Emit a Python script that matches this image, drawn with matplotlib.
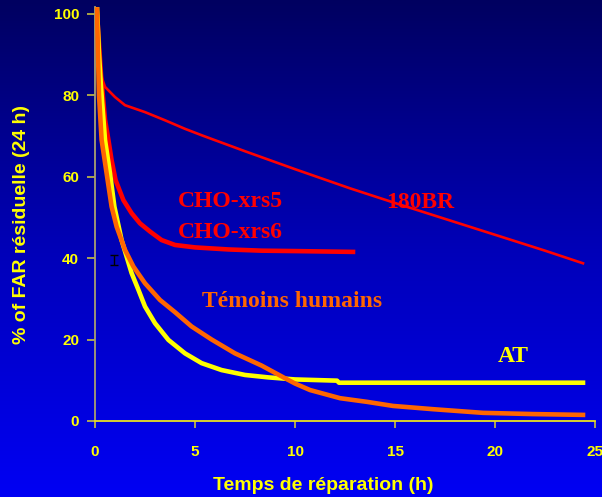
import numpy as np
import matplotlib
matplotlib.use("Agg")
import matplotlib.pyplot as plt
from matplotlib.colors import LinearSegmentedColormap

# Residual FAR (% of initial) versus repair time (h)
br180_t = [0.1, 0.2, 0.33, 0.5, 1.0, 1.5, 2.5, 3.5, 4.5, 5.4, 7.5, 10, 12.75, 15, 17.5, 20, 22.5, 24.4]
br180_v = [100, 92, 84.4, 82, 79.5, 77.5, 75.8, 73.8, 71.7, 70, 66.2, 61.8, 57.1, 53.5, 49.6, 45.7, 41.8, 38.7]

cho_t = [0.1, 0.3, 0.5, 0.67, 0.83, 1.03, 1.42, 1.83, 2.25, 2.75, 3.33, 4.0, 5.0, 6.67, 8.33, 10, 12.9]
cho_v = [100, 85, 74, 69, 64, 59.1, 54.2, 51, 48.5, 46.5, 44.4, 43.2, 42.6, 42.1, 41.8, 41.7, 41.5]

temoins_t = [0.1, 0.15, 0.2, 0.33, 0.58, 0.83, 1.08, 1.5, 1.92, 2.5, 3.25, 4.0, 4.83, 5.83,
             7.0, 8.33, 9.5, 10, 10.75, 12.25, 13.6, 14.9, 16.9, 19.4, 21.9, 24.4]
temoins_v = [101, 90, 80, 69, 60.8, 52.6, 47.7, 42, 37.9, 33.8, 29.7, 26.7, 23.2, 20,
             16.6, 13.6, 10.5, 9.2, 7.6, 5.6, 4.7, 3.7, 2.9, 2.0, 1.7, 1.5]

at_t = [0.1, 0.2, 0.3, 0.5, 0.75, 0.97, 1.33, 1.83, 2.17, 2.5, 3.0, 3.67, 4.5, 5.33,
        6.33, 7.5, 8.67, 10, 12.1, 12.2, 24.4]
at_v = [101.5, 90, 82, 69, 60.8, 52.6, 44.4, 36.3, 32.2, 28.1, 24, 19.9, 16.6, 14.2,
        12.5, 11.3, 10.7, 10.2, 9.9, 9.4, 9.4]

# single lower error cap near the start of the curves
err_t = [0.95]
err_v = [40.7]
err_lo = [2.4]

x_ticks = [0, 5, 10, 15, 20, 25]
y_ticks = [0, 20, 40, 60, 80, 100]

fig = plt.figure(figsize=(6.02, 4.97), dpi=100)

# vertical navy-to-blue background
bg = fig.add_axes([0, 0, 1, 1], zorder=-10)
cmap = LinearSegmentedColormap.from_list("bg", ["#000060", "#0000b8", "#0000f4"])
grad = np.linspace(0, 1, 256).reshape(-1, 1)
bg.imshow(grad, aspect="auto", cmap=cmap, extent=[0, 1, 0, 1], origin="upper")
bg.axis("off")

ax = fig.add_axes([95 / 602, (497 - 421) / 497, 500 / 602, (421 - 7.4) / 497])
ax.patch.set_alpha(0)
ax.set_xlim(0, 25)
ax.set_ylim(0, 101.5)

ax.plot(br180_t, br180_v, color="#ff0000", lw=1.9, zorder=3)
ax.plot(cho_t, cho_v, color="#ff0000", lw=3.3, zorder=4)
ax.plot(at_t, at_v, color="#ffff00", lw=3.3, zorder=5)
ax.plot(temoins_t, temoins_v, color="#ff6600", lw=3.3, zorder=6)
ax.errorbar(err_t, err_v, yerr=[err_lo, [0]], fmt="none", ecolor="black",
            elinewidth=1, capsize=3, zorder=2)

serif = "Liberation Serif"
sans = "Liberation Sans"
ax.text(4.15, 52.5, "CHO-xrs5", color="#ff0000", fontsize=17, fontweight="bold",
        family=serif, va="baseline")
ax.text(4.15, 44.8, "CHO-xrs6", color="#ff0000", fontsize=17, fontweight="bold",
        family=serif, va="baseline")
ax.text(14.55, 52.3, "180BR", color="#ff0000", fontsize=17, fontweight="bold",
        family=serif, va="baseline")
ax.text(5.35, 28.0, "Témoins humains", color="#ff6600", fontsize=17, fontweight="bold",
        family=serif, va="baseline")
ax.text(20.15, 14.5, "AT", color="#ffff00", fontsize=17, fontweight="bold",
        family=serif, va="baseline")

for side in ("top", "right"):
    ax.spines[side].set_visible(False)
ax.spines["left"].set_color("#a8a070")
ax.spines["left"].set_linewidth(1.3)
ax.spines["bottom"].set_color("#e8e020")
ax.spines["bottom"].set_linewidth(1.3)

ax.set_xticks(x_ticks)
ax.set_yticks(y_ticks)
ax.tick_params(axis="x", colors="#c8c040", labelcolor="#ffff00", length=5, width=1.2,
               pad=12, labelsize=11)
ax.tick_params(axis="y", colors="#c8c040", labelcolor="#ffff00", length=6, width=1.2,
               pad=5.5, labelsize=11)
for lab in ax.get_xticklabels() + ax.get_yticklabels():
    lab.set_fontweight("bold")
    lab.set_family(sans)

fig.text(323 / 602, 1 - 485 / 497, "Temps de réparation (h)", color="#ffff00",
         fontsize=14, fontweight="bold", family=sans, ha="center", va="center")
fig.text(22 / 602, 1 - 225 / 497, "% of FAR résiduelle (24 h)", color="#ffff00",
         fontsize=14, fontweight="bold", family=sans, ha="center", va="center",
         rotation=90)

fig.savefig("out.png", dpi=100)
